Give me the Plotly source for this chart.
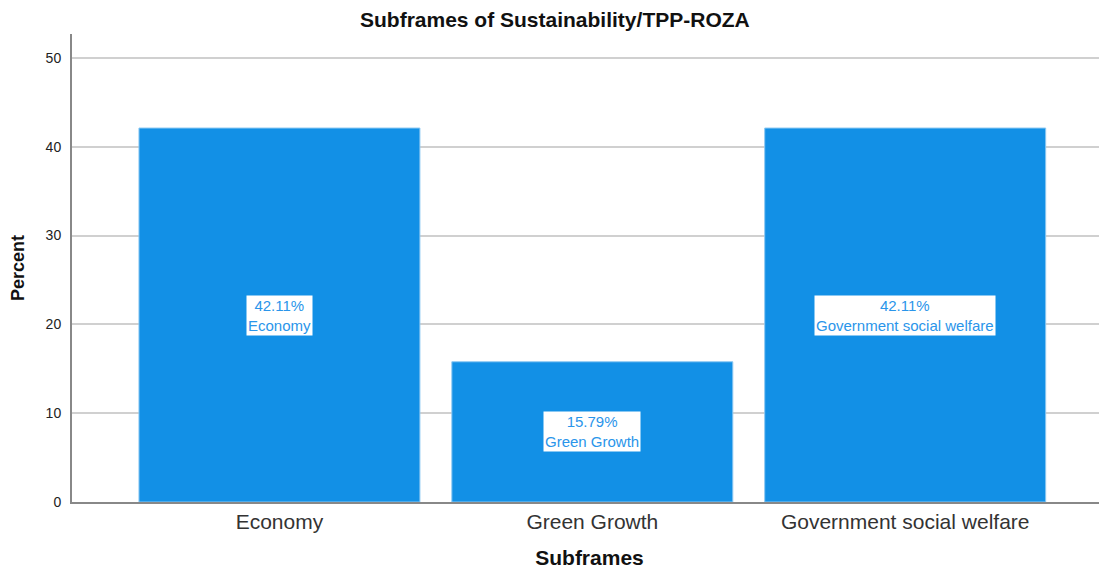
import plotly.graph_objects as go

categories = ["Economy", "Green Growth", "Government social welfare"]
percents = [42.11, 15.79, 42.11]
title_text = "Subframes of Sustainability/TPP-ROZA"
x_title = "Subframes"
y_title = "Percent"
y_ticks = [0, 10, 20, 30, 40, 50]

FONT = "Liberation Sans, Arial, sans-serif"
BAR = "#1290e6"

fig = go.Figure()
fig.add_trace(go.Bar(
    x=list(range(len(categories))), y=percents,
    marker=dict(color=BAR, line=dict(color="#8cc8f2", width=1)),
    width=0.898, showlegend=False, hoverinfo="skip",
))

for i, (c, p) in enumerate(zip(categories, percents)):
    fig.add_annotation(
        x=i, y=p / 2, xref="x", yref="y",
        text=f"{p:.2f}%<br>{c}", showarrow=False,
        font=dict(family=FONT, size=15, color="#2a95ea"),
        bgcolor="white", borderpad=1, align="center",
    )

fig.update_layout(
    width=1107, height=570,
    margin=dict(l=64, r=8, t=26, b=76),
    plot_bgcolor="white", paper_bgcolor="white",
    font=dict(family=FONT, color="#222"),
    title=dict(text=f"<b>{title_text}</b>", x=0.494, xanchor="center", y=0.979, yanchor="middle",
               font=dict(family=FONT, size=21, color="#111")),
    xaxis=dict(
        range=[-0.663, 2.645], tickmode="array",
        tickvals=list(range(len(categories))), ticktext=categories,
        tickfont=dict(family=FONT, size=21, color="#333"),
        showgrid=False, showline=True, linecolor="#888", linewidth=2,
        ticks="", zeroline=False,
        title=dict(text=f"<b>{x_title}</b>", font=dict(family=FONT, size=21, color="#111"), standoff=18),
    ),
    yaxis=dict(
        range=[0, 52.7], tickmode="array", tickvals=y_ticks,
        tickfont=dict(family=FONT, size=14, color="#222"),
        showgrid=True, gridcolor="#d0d0d0", gridwidth=1.5,
        showline=True, linecolor="#888", linewidth=2,
        ticks="outside", ticklen=0, zeroline=False, ticklabelstandoff=6,
        title=dict(text=f"<b>{y_title}</b>", font=dict(family=FONT, size=18, color="#111"), standoff=18),
    ),
)

fig.write_html("out.html")
